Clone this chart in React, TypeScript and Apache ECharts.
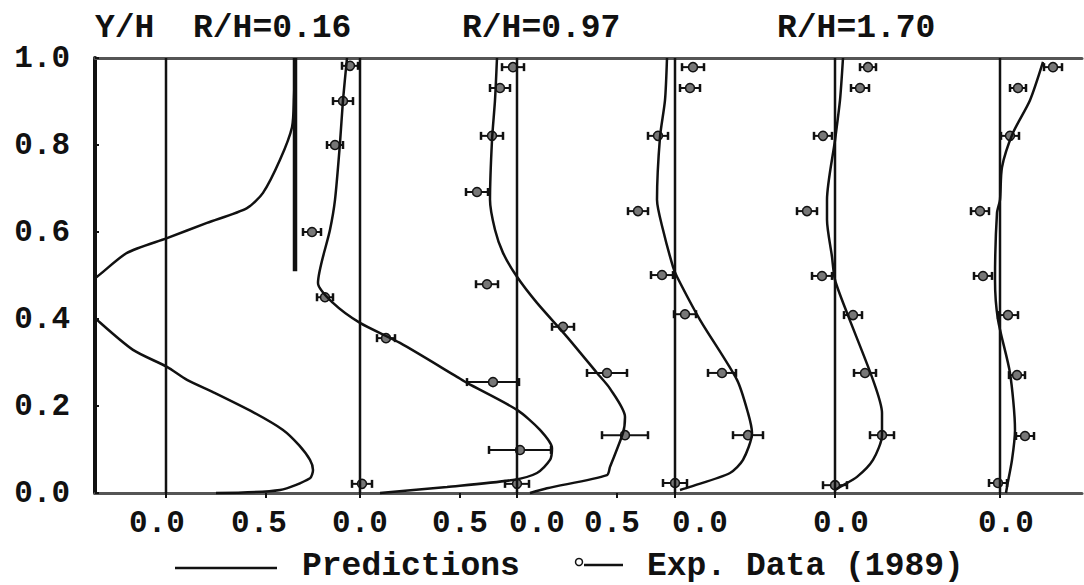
import React, { useEffect, useRef } from "react";
import * as echarts from "echarts";

// ---------------- data ----------------
const yTickValues = [0, 0.2, 0.4, 0.6, 0.8, 1.0];
const titleTexts = ["Y/H", "R/H=0.16", "R/H=0.97", "R/H=1.70"];
const legendTexts = ["Predictions", "Exp. Data (1989)"];

// x-axis tick/label values of each of the six profile panels
const panelTickValues = [[0, 0.5], [0, 0.5], [0, 0.5], [0], [0], [0]];

// Panel 1 (R/H=0.16) prediction
const p1PredX = [0.25, 0.57, 0.72, 0.735, 0.72, 0.665, 0.585, 0.435, 0.235, 0.105, 0.005, -0.165, -0.345, -0.39, -0.395, -0.345, -0.195, 0.005, 0.205, 0.405, 0.485, 0.57, 0.63, 0.64, 0.645];
const p1PredY = [0.0, 0.007, 0.034, 0.053, 0.076, 0.11, 0.145, 0.186, 0.232, 0.26, 0.29, 0.329, 0.398, 0.42, 0.483, 0.497, 0.552, 0.586, 0.621, 0.655, 0.69, 0.766, 0.841, 0.91, 1.0];
const p1BarX = [0.645, 0.645];
const p1BarY = [0.51, 1.0];

// Panel 2
const p2PredX = [-0.065, -0.085, -0.1, -0.125, -0.15, -0.21, -0.135, 0.0, 0.2, 0.485, 0.535, 0.785, 0.9, 0.96, 0.95, 0.885, 0.765, 0.435, 0.1];
const p2PredY = [1.0, 0.903, 0.805, 0.674, 0.605, 0.483, 0.437, 0.391, 0.345, 0.267, 0.253, 0.191, 0.145, 0.103, 0.076, 0.046, 0.03, 0.014, 0.0];
const p2ExpX = [-0.05, -0.085, -0.125, -0.24, -0.175, 0.13, 0.665, 0.8, 0.01];
const p2ExpY = [0.982, 0.901, 0.8, 0.6, 0.45, 0.356, 0.255, 0.099, 0.021];
const p2ExpErr = [0.04, 0.05, 0.04, 0.045, 0.04, 0.045, 0.13, 0.155, 0.05];

// Panel 3 (R/H=0.97)
const p3PredX = [-0.1, -0.11, -0.125, -0.135, -0.11, -0.07, 0.0, 0.1, 0.25, 0.4, 0.465, 0.54, 0.53, 0.465, 0.45, 0.15, 0.065];
const p3PredY = [1.0, 0.903, 0.811, 0.674, 0.605, 0.552, 0.497, 0.437, 0.359, 0.276, 0.24, 0.175, 0.138, 0.06, 0.041, 0.011, 0.0];
const p3ExpX = [-0.02, -0.085, -0.125, -0.2, -0.15, 0.23, 0.45, 0.54, 0.0];
const p3ExpY = [0.979, 0.931, 0.821, 0.692, 0.48, 0.382, 0.276, 0.133, 0.021];
const p3ExpErr = [0.055, 0.05, 0.055, 0.055, 0.055, 0.055, 0.1, 0.115, 0.06];

// Panel 4
const p4PredX = [-0.04, -0.05, -0.075, -0.09, -0.06, -0.01, 0.01, 0.125, 0.31, 0.365, 0.385, 0.34, 0.275, 0.075, 0.025];
const p4PredY = [1.0, 0.903, 0.818, 0.674, 0.605, 0.52, 0.497, 0.398, 0.26, 0.184, 0.138, 0.076, 0.046, 0.014, 0.007];
const p4ExpX = [0.09, 0.075, -0.085, -0.185, -0.065, 0.05, 0.235, 0.365, 0.0];
const p4ExpY = [0.979, 0.931, 0.821, 0.648, 0.501, 0.411, 0.276, 0.133, 0.023];
const p4ExpErr = [0.055, 0.05, 0.05, 0.05, 0.055, 0.055, 0.07, 0.075, 0.06];

// Panel 5 (R/H=1.70)
const p5PredX = [0.04, 0.025, 0.0, -0.04, -0.04, -0.015, 0.0, 0.06, 0.19, 0.235, 0.235, 0.19, 0.11, 0.025, 0.0];
const p5PredY = [1.0, 0.903, 0.811, 0.674, 0.628, 0.543, 0.49, 0.414, 0.26, 0.184, 0.133, 0.076, 0.037, 0.014, 0.007];
const p5ExpX = [0.165, 0.125, -0.06, -0.14, -0.065, 0.09, 0.15, 0.235, 0.0];
const p5ExpY = [0.979, 0.931, 0.821, 0.648, 0.499, 0.409, 0.276, 0.133, 0.018];
const p5ExpErr = [0.04, 0.045, 0.045, 0.05, 0.05, 0.045, 0.055, 0.06, 0.06];

// Panel 6
const p6PredX = [0.215, 0.15, 0.065, 0.01, 0.0, -0.015, -0.025, -0.01, 0.05, 0.075, 0.06, 0.035, 0.03];
const p6PredY = [0.991, 0.903, 0.828, 0.749, 0.674, 0.644, 0.49, 0.398, 0.276, 0.145, 0.076, 0.014, 0.0];
const p6ExpX = [0.265, 0.09, 0.05, -0.1, -0.085, 0.04, 0.085, 0.125, -0.01];
const p6ExpY = [0.979, 0.931, 0.821, 0.648, 0.499, 0.409, 0.271, 0.131, 0.023];
const p6ExpErr = [0.045, 0.04, 0.045, 0.045, 0.045, 0.05, 0.04, 0.045, 0.045];

// ---------------- layout / style ----------------
const W = 1084;
const H = 585;
const GRID_L = 95;
const GRID_R = 2;
const GRID_T = 58;
const GRID_B = 92;
const PX_PER_UNIT = 200;
const PANEL_ZERO_PX = [166, 360, 517, 675, 835, 1000];
// horizontal nudges of bottom labels (px) [per panel, per label]
const LABEL_SHIFT = [[-9, -7], [0, 0], [20, -5], [25], [6], [6]];
const FONT = "'Liberation Mono', 'Courier New', 'DejaVu Sans Mono', monospace";
const INK = "#111";

const zip = (xs: number[], ys: number[]) => xs.map((x, i) => [x, ys[i]]);
const expData = (xs: number[], ys: number[], es: number[]) =>
  xs.map((x, i) => [x, ys[i], x - es[i], x + es[i]]);

const predSets = [
  zip(p1PredX, p1PredY),
  zip(p2PredX, p2PredY),
  zip(p3PredX, p3PredY),
  zip(p4PredX, p4PredY),
  zip(p5PredX, p5PredY),
  zip(p6PredX, p6PredY),
];
const expSets: (number[][] | null)[] = [
  null,
  expData(p2ExpX, p2ExpY, p2ExpErr),
  expData(p3ExpX, p3ExpY, p3ExpErr),
  expData(p4ExpX, p4ExpY, p4ExpErr),
  expData(p5ExpX, p5ExpY, p5ExpErr),
  expData(p6ExpX, p6ExpY, p6ExpErr),
];

function buildOption() {
  const gridW = W - GRID_L - GRID_R;
  const xAxes: any[] = PANEL_ZERO_PX.map((z, i) => {
    const min = -(z - GRID_L) / PX_PER_UNIT;
    const max = min + gridW / PX_PER_UNIT;
    const rich: any = {};
    LABEL_SHIFT[i].forEach((s, j) => {
      rich["s" + j] = {
        fontFamily: FONT,
        fontWeight: "bold",
        fontSize: 31,
        color: INK,
        padding: s >= 0 ? [0, 0, 0, 2 * s] : [0, -2 * s, 0, 0],
      };
    });
    return {
      type: "value",
      gridIndex: 0,
      position: "bottom",
      min,
      max,
      axisLine: { show: i === 0, onZero: false, lineStyle: { color: "#555", width: 3 } },
      axisTick: {
        show: true,
        customValues: panelTickValues[i],
        length: 5,
        lineStyle: { color: INK, width: 2 },
      },
      axisLabel: {
        show: true,
        customValues: panelTickValues[i],
        margin: 15,
        formatter: (v: number) => {
          const j = panelTickValues[i].findIndex((t) => Math.abs(t - v) < 1e-9);
          return `{s${j < 0 ? 0 : j}|${v.toFixed(1)}}`;
        },
        rich,
      },
      splitLine: { show: false },
    };
  });
  // top border
  xAxes.push({
    type: "value",
    gridIndex: 0,
    position: "top",
    min: 0,
    max: 1,
    axisLine: { show: true, onZero: false, lineStyle: { color: "#555", width: 3 } },
    axisTick: { show: false },
    axisLabel: { show: false },
    splitLine: { show: false },
  });

  const series: any[] = [];
  PANEL_ZERO_PX.forEach((_, i) => {
    series.push({
      type: "line",
      xAxisIndex: i,
      yAxisIndex: 0,
      data: [[0, 0], [0, 1]],
      symbol: "none",
      silent: true,
      lineStyle: { color: INK, width: 2.5 },
    });
    series.push({
      name: legendTexts[0],
      type: "line",
      xAxisIndex: i,
      yAxisIndex: 0,
      data: predSets[i],
      symbol: "none",
      smooth: 0.25,
      clip: false,
      z: 3,
      lineStyle: { color: INK, width: 2.5 },
    });
    const exp = expSets[i];
    if (exp) {
      series.push({
        name: legendTexts[1],
        type: "custom",
        xAxisIndex: i,
        yAxisIndex: 0,
        data: exp,
        encode: { x: [0, 2, 3], y: 1 },
        renderItem: (params: any, api: any) => {
          const y = api.value(1);
          const c = api.coord([api.value(0), y]);
          const lo = api.coord([api.value(2), y]);
          const hi = api.coord([api.value(3), y]);
          const st = { stroke: INK, lineWidth: 2 };
          return {
            type: "group",
            children: [
              { type: "line", shape: { x1: lo[0], y1: c[1], x2: hi[0], y2: c[1] }, style: st },
              { type: "line", shape: { x1: lo[0], y1: c[1] - 4, x2: lo[0], y2: c[1] + 4 }, style: { stroke: INK, lineWidth: 2.5 } },
              { type: "line", shape: { x1: hi[0], y1: c[1] - 4, x2: hi[0], y2: c[1] + 4 }, style: { stroke: INK, lineWidth: 2.5 } },
              { type: "circle", shape: { cx: c[0], cy: c[1], r: 4.5 }, style: { fill: "#777", stroke: INK, lineWidth: 1.5 } },
            ],
          };
        },
      });
    }
  });
  series.push({
    type: "line",
    xAxisIndex: 0,
    yAxisIndex: 0,
    data: zip(p1BarX, p1BarY),
    symbol: "none",
    silent: true,
    lineStyle: { color: INK, width: 4.5 },
  });

  const titleFont = `bold 33px ${FONT}`;
  const graphic: any[] = [
    { type: "text", left: 95, top: 12, style: { text: titleTexts[0], font: titleFont, fill: INK } },
    { type: "text", left: 193, top: 12, style: { text: titleTexts[1], font: titleFont, fill: INK } },
    { type: "text", left: 462, top: 12, style: { text: titleTexts[2], font: titleFont, fill: INK } },
    { type: "text", left: 777, top: 12, style: { text: titleTexts[3], font: titleFont, fill: INK } },
    { type: "line", shape: { x1: 175, y1: 568, x2: 277, y2: 568 }, style: { stroke: INK, lineWidth: 2.5 } },
    { type: "text", left: 302, top: 550, style: { text: legendTexts[0], font: titleFont, fill: INK } },
    { type: "circle", shape: { cx: 579, cy: 562, r: 3.5 }, style: { fill: "#fff", stroke: INK, lineWidth: 1.5 } },
    { type: "line", shape: { x1: 584, y1: 565, x2: 623, y2: 565 }, style: { stroke: INK, lineWidth: 2.5 } },
    { type: "text", left: 647, top: 550, style: { text: legendTexts[1], font: titleFont, fill: INK } },
  ];

  return {
    animation: false,
    backgroundColor: "#fff",
    grid: { left: GRID_L, right: GRID_R, top: GRID_T, bottom: GRID_B, containLabel: false },
    xAxis: xAxes,
    yAxis: [
      {
        type: "value",
        min: 0,
        max: 1,
        interval: 0.2,
        axisLine: { show: true, onZero: false, lineStyle: { color: INK, width: 4 } },
        axisTick: { show: true, inside: true, length: 4, lineStyle: { color: INK, width: 2 } },
        axisLabel: {
          margin: 25,
          fontFamily: FONT,
          fontWeight: "bold",
          fontSize: 31,
          color: INK,
          formatter: (v: number) => (yTickValues.some((t) => Math.abs(t - v) < 1e-9) ? v.toFixed(1) : ""),
        },
        splitLine: { show: false },
      },
    ],
    series,
    graphic,
  };
}

export default function App() {
  const ref = useRef<HTMLDivElement>(null);
  useEffect(() => {
    document.body.style.margin = "0";
    const chart = echarts.init(ref.current!, null, { renderer: "svg" });
    chart.setOption(buildOption() as any);
    return () => chart.dispose();
  }, []);
  return <div ref={ref} style={{ width: W, height: H, background: "#fff" }} />;
}
